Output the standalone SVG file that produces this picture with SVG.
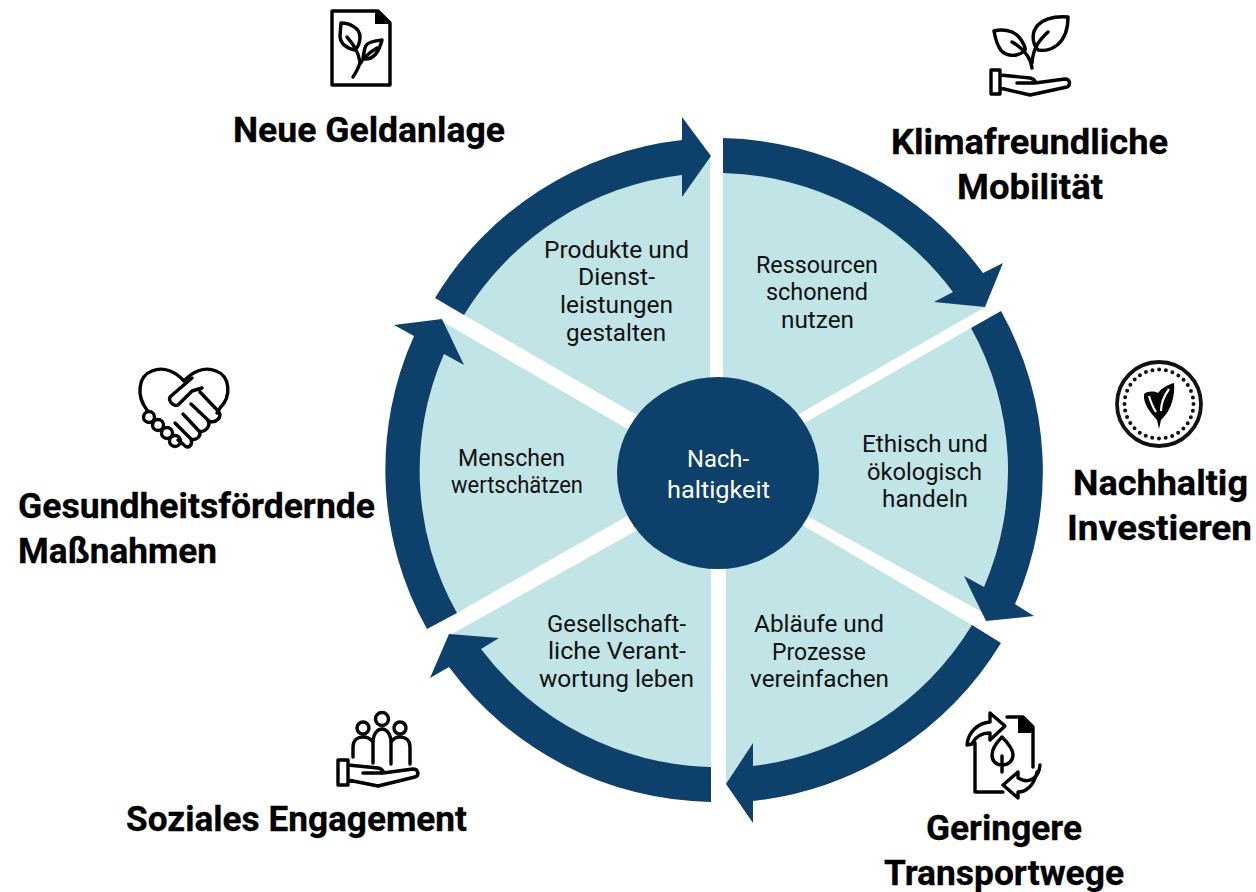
<svg xmlns="http://www.w3.org/2000/svg" width="1256" height="892" viewBox="0 0 1256 892">
<style>
.w{fill:#c1e4e7}
.a{fill:#0e406c}
.t{font-family:"Roboto","Liberation Sans",sans-serif;font-weight:700;font-size:35px;fill:#000;stroke:#000;stroke-width:.3}
.l{font-family:"Roboto","Liberation Sans",sans-serif;font-weight:400;font-size:24px;fill:#111}
.c{fill:#fff}
.i{fill:none;stroke:#000;stroke-width:3.4;stroke-linecap:round;stroke-linejoin:round}
.k{fill:#000}
</style>
<rect width="1256" height="892" fill="#fff"/>
<g id="segments">
<path class="w" d="M723,450V170A300,300 0 0 1 960,295L985,307L780,425Z"/>
<path class="w" d="M780,437L971,328A296,296 0 0 1 984,587L982,612L780,501Z"/>
<path class="w" d="M726,480L972,625L978,629A305,305 0 0 1 753,772L726,784Z"/>
<path class="w" d="M711,490V770A300,300 0 0 1 470,645L452,634L650,523Z"/>
<path class="w" d="M443,322L650,442V503L457,613A290,290 0 0 1 444,354Z"/>
<path class="w" d="M464,315A296,296 0 0 1 682,175L710,156V440L640,417Z"/>
</g>
<g id="connectors">
<path class="a" d="M723,138A332,332 0 0 1 983,273L1003,263L985,307L934,302L953,292A296,296 0 0 0 723,173Z"/>
<path class="a" d="M1001,311A329,329 0 0 1 1015,604L1034,616L986,621L964,576L984,587A294,294 0 0 0 971,328Z"/>
<path class="a" d="M1001,643A332,332 0 0 1 753,801V823L726,784L753,743V766A298,298 0 0 0 972,625Z"/>
<path class="a" d="M711,802A332,332 0 0 1 449,667L430,678L449,634L499,638L481,649A297,297 0 0 0 711,767Z"/>
<path class="a" d="M427,629A326,326 0 0 1 414,336L394,325L442,319L464,365L444,354A291,291 0 0 0 457,613Z"/>
<path class="a" d="M435,298A331,331 0 0 1 682,140V117L711,156L682,197V175A296,296 0 0 0 464,315Z"/>
</g>
<g id="center">
<ellipse class="a" cx="718" cy="473" rx="101" ry="96"/>
<text class="l c" x="687" y="467" textLength="62" lengthAdjust="spacingAndGlyphs">Nach-</text>
<text class="l c" x="667" y="498" textLength="103" lengthAdjust="spacingAndGlyphs">haltigkeit</text>
</g>
<g id="label-produkte">
<text class="l" x="544" y="258" textLength="145" lengthAdjust="spacingAndGlyphs">Produkte und</text>
<text class="l" x="578" y="285" textLength="77" lengthAdjust="spacingAndGlyphs">Dienst-</text>
<text class="l" x="560" y="313" textLength="113" lengthAdjust="spacingAndGlyphs">leistungen</text>
<text class="l" x="566" y="341" textLength="100" lengthAdjust="spacingAndGlyphs">gestalten</text>
</g>
<g id="label-ressourcen">
<text class="l" x="756" y="273" textLength="122" lengthAdjust="spacingAndGlyphs">Ressourcen</text>
<text class="l" x="766" y="300" textLength="102" lengthAdjust="spacingAndGlyphs">schonend</text>
<text class="l" x="781" y="328" textLength="73" lengthAdjust="spacingAndGlyphs">nutzen</text>
</g>
<g id="label-ethisch">
<text class="l" x="862" y="452" textLength="126" lengthAdjust="spacingAndGlyphs">Ethisch und</text>
<text class="l" x="867" y="480" textLength="115" lengthAdjust="spacingAndGlyphs">ökologisch</text>
<text class="l" x="882" y="507" textLength="86" lengthAdjust="spacingAndGlyphs">handeln</text>
</g>
<g id="label-ablaeufe">
<text class="l" x="754" y="632" textLength="130" lengthAdjust="spacingAndGlyphs">Abläufe und</text>
<text class="l" x="772" y="660" textLength="94" lengthAdjust="spacingAndGlyphs">Prozesse</text>
<text class="l" x="750" y="687" textLength="139" lengthAdjust="spacingAndGlyphs">vereinfachen</text>
</g>
<g id="label-gesellschaft">
<text class="l" x="547" y="632" textLength="139" lengthAdjust="spacingAndGlyphs">Gesellschaft-</text>
<text class="l" x="548" y="659" textLength="138" lengthAdjust="spacingAndGlyphs">liche Verant-</text>
<text class="l" x="539" y="687" textLength="155" lengthAdjust="spacingAndGlyphs">wortung leben</text>
</g>
<g id="label-menschen">
<text class="l" x="458" y="466" textLength="107" lengthAdjust="spacingAndGlyphs">Menschen</text>
<text class="l" x="451" y="493" textLength="132" lengthAdjust="spacingAndGlyphs">wertschätzen</text>
</g>
<g id="node-geldanlage">
<path class="i" d="M332,11H378L390,23V85H332Z"/>
<path class="k" d="M375,10H378L391,22V24H375Z"/>
<path class="i" d="M341,23C350,23 360,28 360,37C360,43 358,47 355,50C348,49 340,44 340,36ZM382,40C375,41 366,42 365,48C364,52 363,56 363,59C371,60 378,56 382,40ZM347,37C352,43 358,50 360,62C359,68 356,72 353,77M360,64C364,57 370,52 377,48"/>
<text class="t" x="233" y="142" textLength="272" lengthAdjust="spacingAndGlyphs">Neue Geldanlage</text>
</g>
<g id="node-mobilitaet">
<path class="i" d="M1068,17C1055,16 1045,18 1038,25C1032,31 1031,42 1038,50C1050,52 1068,45 1068,17ZM994,31C1002,29 1012,30 1018,36C1024,42 1026,50 1025,50C1018,58 1003,57 999,47C996,42 995,36 994,31ZM1032,68C1031,60 1026,50 1012,42M1032,63C1033,50 1037,42 1048,32"/>
<path class="i" d="M991,70H1000V94H991ZM1000,75L1030,78C1034,79 1036,81 1035,83H1017M1035,83L1065,79C1070,79 1071,85 1067,87L1030,95L1000,88"/>
<text class="t" x="891" y="154" textLength="277" lengthAdjust="spacingAndGlyphs">Klimafreundliche</text>
<text class="t" x="957" y="199" textLength="146" lengthAdjust="spacingAndGlyphs">Mobilität</text>
</g>
<g id="node-investieren">
<circle cx="1159" cy="404" r="42" fill="none" stroke="#111" stroke-width="3.8"/>
<circle cx="1159" cy="404" r="34.5" fill="none" stroke="#111" stroke-width="4" stroke-linecap="round" stroke-dasharray="0 6.77"/>
<path class="k" d="M1159,429L1157,420C1150,412 1143,404 1144,394C1148,391 1154,391 1158,393C1162,388 1167,385 1174,383C1175,395 1172,410 1161,420Z"/>
<path d="M1149,396C1151,403 1154,409 1156,412M1169,389C1164,396 1161,404 1161,411" fill="none" stroke="#fff" stroke-width="2.2"/>
<text class="t" x="1073" y="495" textLength="175" lengthAdjust="spacingAndGlyphs">Nachhaltig</text>
<text class="t" x="1067" y="540" textLength="185" lengthAdjust="spacingAndGlyphs">Investieren</text>
</g>
<g id="node-transportwege">
<path class="i" d="M1007,717H1023L1033,727V767M975,743V792H1003"/>
<path class="k" d="M1018,718H1025L1033,727V733H1018Z"/>
<path class="i" d="M967,745C968,732 978,723 990,722V713L1005,726L990,740V733C982,733 975,737 972,744Z"/>
<path class="i" d="M1040,765C1039,777 1030,785 1018,778V772L1003,785L1018,798V792C1026,792 1034,786 1037,772"/>
<path class="i" d="M1002,737C1008,743 1013,749 1013,755C1013,761 1008,765 1002,765C996,765 992,761 992,755C992,749 996,743 1002,737ZM1002,756V772"/>
<text class="t" x="926" y="840" textLength="156" lengthAdjust="spacingAndGlyphs">Geringere</text>
<text class="t" x="884" y="885" textLength="240" lengthAdjust="spacingAndGlyphs">Transportwege</text>
</g>
<g id="node-engagement">
<circle class="i" cx="382" cy="719" r="6.5"/>
<circle class="i" cx="363" cy="728" r="6"/>
<circle class="i" cx="400" cy="728" r="6"/>
<path class="i" d="M373,763V743C373,733 378,729 382,729C386,729 391,733 391,743V764M353,757V747C353,740 358,737 363,737C367,737 371,739 373,742M410,764V747C410,740 405,737 400,737C396,737 393,739 391,742"/>
<path class="i" d="M338,760H348V785H338ZM348,765L378,768C382,769 384,771 383,773H363M383,773L413,769C418,769 420,775 415,777L378,786L348,780"/>
<text class="t" x="126" y="831" textLength="341" lengthAdjust="spacingAndGlyphs">Soziales Engagement</text>
</g>
<g id="node-massnahmen">
<path class="i" d="M147,410C136,396 138,376 152,371C164,366 176,372 184,381C192,372 204,366 216,371C230,376 232,396 220,408L217,413"/>
<path class="i" d="M202,388L192,391L178,405C173,407 167,400 171,396L192,378M200,392L219,412C222,417 216,424 209,421L191,404M208,421C211,426 205,433 199,431L183,414M199,431C202,436 196,441 191,439L175,423M191,439C193,445 188,450 184,445L178,440"/>
<circle class="i" cx="149" cy="417" r="5.5"/>
<circle class="i" cx="158" cy="425" r="5.5"/>
<circle class="i" cx="167" cy="433" r="5.5"/>
<circle class="i" cx="175" cy="441" r="5.5"/>
<text class="t" x="18" y="518" textLength="357" lengthAdjust="spacingAndGlyphs">Gesundheitsfördernde</text>
<text class="t" x="18" y="563" textLength="199" lengthAdjust="spacingAndGlyphs">Maßnahmen</text>
</g>
</svg>
